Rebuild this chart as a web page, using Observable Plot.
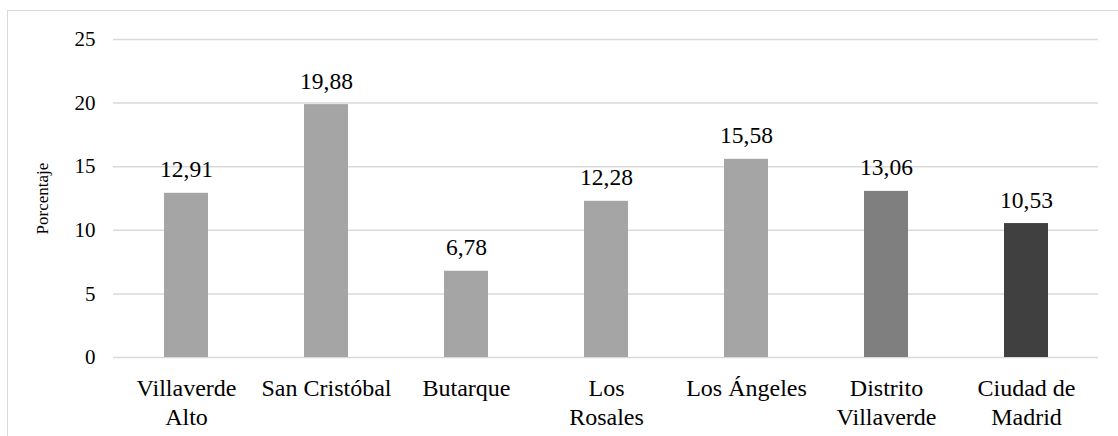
<!DOCTYPE html>
<html>
<head>
<meta charset="utf-8">
<script src="https://cdn.jsdelivr.net/npm/d3@7"></script>
<script src="https://cdn.jsdelivr.net/npm/@observablehq/plot@0.6"></script>
<style>
  html, body { margin: 0; padding: 0; background: #fff; }
  #wrap { position: relative; width: 1118px; height: 436px; overflow: hidden; }
  #frame {
    position: absolute; left: 7px; top: 10px; width: 1200px; height: 500px;
    border-top: 1.5px solid #d9d9d9; border-left: 1.5px solid #d9d9d9;
    box-sizing: border-box;
  }
  #chart { position: absolute; left: 0; top: 0; }
</style>
</head>
<body>
<div id="wrap">
  <div id="frame"></div>
  <div id="chart"></div>
</div>
<script>
// Barrios del distrito de Villaverde, el distrito y la ciudad
const categories = [
  "Villaverde\nAlto",
  "San Cristóbal",
  "Butarque",
  "Los\nRosales",
  "Los Ángeles",
  "Distrito\nVillaverde",
  "Ciudad de\nMadrid"
];
const values = [12.91, 19.88, 6.78, 12.28, 15.58, 13.06, 10.53];
const fills = ["#a5a5a5", "#a5a5a5", "#a5a5a5", "#a5a5a5", "#a5a5a5", "#7f7f7f", "#404040"];
const yTicks = [0, 5, 10, 15, 20, 25];
const yLabel = "Porcentaje";

const rows = categories.map((c, i) => ({ area: c, pct: values[i], fill: fills[i] }));
const fmt = v => v.toFixed(2).replace(".", ",");

const serif = "Liberation Serif";

const chart = Plot.plot({
  width: 1118,
  height: 436,
  marginLeft: 113,
  marginRight: 20,
  marginTop: 39,
  marginBottom: 79,
  style: { fontFamily: serif, color: "#000", background: "transparent", overflow: "visible" },
  x: { domain: categories, paddingInner: 0.687, paddingOuter: 0.3435, label: null },
  y: { domain: [0, 25], label: null },
  marks: [
    Plot.gridY(yTicks, { stroke: "#d9d9d9", strokeOpacity: 1, strokeWidth: 1.5 }),
    Plot.barY(rows, { x: "area", y: "pct", fill: "fill" }),
    Plot.text(rows, {
      x: "area", y: "pct", text: d => fmt(d.pct),
      lineAnchor: "bottom", dy: -16, fontSize: 23.5, fontFamily: serif, fill: "#000"
    }),
    Plot.axisY(yTicks, {
      tickSize: 0, tickPadding: 18, fontSize: 21, fontFamily: serif, label: null, fill: "#000"
    }),
    Plot.axisX({
      tickSize: 0, tickPadding: 19, fontSize: 24, lineHeight: 1.17, fontFamily: serif, label: null, fill: "#000"
    }),
    Plot.text([yLabel], {
      frameAnchor: "left", dx: -71, rotate: -90, textAnchor: "middle",
      fontSize: 17, fontFamily: serif, fill: "#000"
    })
  ]
});

document.getElementById("chart").appendChild(chart);
</script>
</body>
</html>
